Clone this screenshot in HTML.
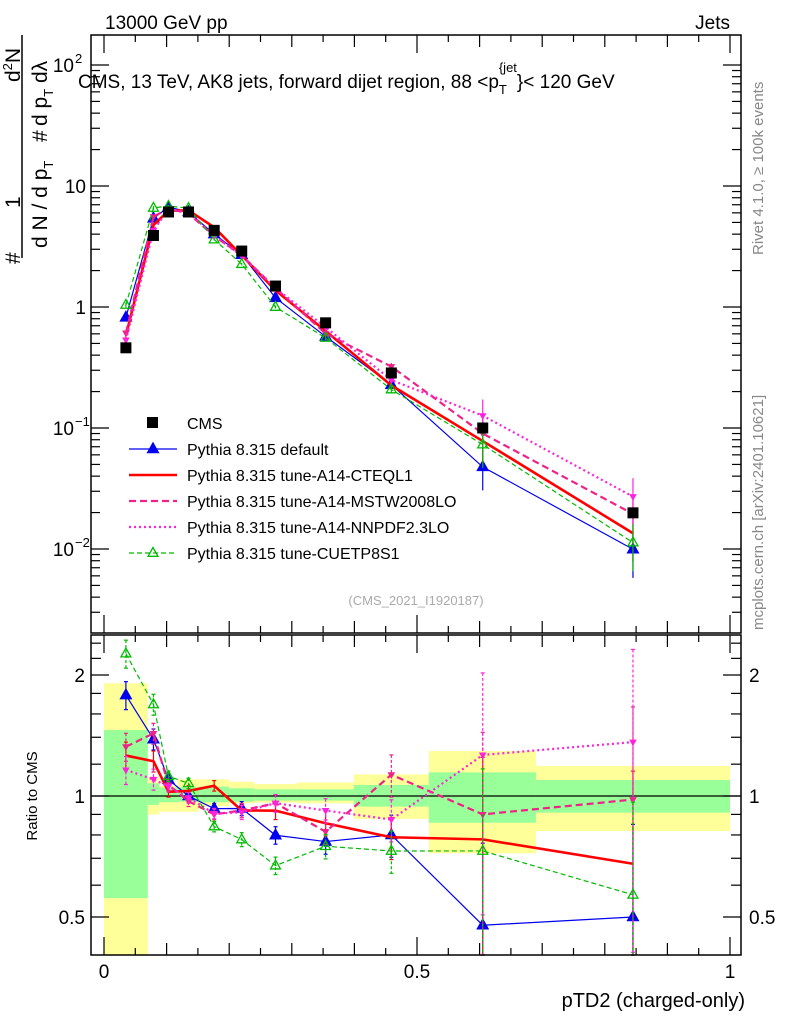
<!DOCTYPE html>
<html><head><meta charset="utf-8"><style>
html,body{margin:0;padding:0;background:#fff;}
svg{display:block;font-family:"Liberation Sans",sans-serif;}
</style></head><body>
<svg id="c" width="786" height="1024" viewBox="0 0 786 1024" xmlns="http://www.w3.org/2000/svg">
<text x="105" y="29" font-size="19">13000 GeV pp</text>
<text x="730" y="29" font-size="19" text-anchor="end">Jets</text>
<text x="78" y="88" font-size="19">CMS, 13 TeV, AK8 jets, forward dijet region, 88 &lt;p<tspan font-size="13" dy="6">T</tspan><tspan font-size="13" dx="-8" dy="-22">{jet</tspan><tspan dy="16">}&lt; 120 GeV</tspan></text>
<text transform="translate(763,255) rotate(-90)" font-size="15" fill="#888">Rivet 4.1.0, ≥ 100k events</text>
<text transform="translate(763,630) rotate(-90)" font-size="15" fill="#888">mcplots.cern.ch [arXiv:2401.10621]</text>
<g font-size="21">
<text transform="translate(20,264) rotate(-90)">#</text>
<text transform="translate(20,208) rotate(-90)">1</text>
<text transform="translate(20,82) rotate(-90)">d<tspan font-size="13" dy="-8">2</tspan><tspan dy="8">N</tspan></text>
<line x1="22" y1="35" x2="22" y2="258" stroke="#000" stroke-width="1.5"/>
<text transform="translate(47,248) rotate(-90)">d N / d p<tspan font-size="13" dy="6">T</tspan></text>
<text transform="translate(47,142) rotate(-90)">#</text>
<text transform="translate(47,126) rotate(-90)">d p<tspan font-size="13" dy="6">T</tspan><tspan dy="-6"> dλ</tspan></text>
</g>
<text transform="translate(37,796) rotate(-90)" font-size="15" text-anchor="middle">Ratio to CMS</text>
<text x="745" y="1007" font-size="20" text-anchor="end">pTD2 (charged-only)</text>
<text x="416" y="605" font-size="13" fill="#aaa" text-anchor="middle">(CMS_2021_I1920187)</text>
<g id="bands"></g><g id="grid"></g><g id="marks"></g><g id="axes"></g><g id="legend"></g>
</svg>
<script>
const binEdges=[0,0.07,0.088,0.118,0.152,0.2,0.24,0.308,0.399,0.519,0.69,1.0];
const xCenters=[0.035,0.079,0.103,0.135,0.176,0.22,0.274,0.354,0.459,0.605,0.845];
const cmsValues=[0.46,3.9,6.1,6.1,4.3,2.9,1.49,0.74,0.285,0.100,0.0199];
const defaultValues=[0.82,5.4,6.7,6.1,4.0,2.7,1.19,0.57,0.228,0.0477,0.00995];
const cteqValues=[0.58,4.76,6.25,6.28,4.56,2.67,1.37,0.633,0.225,0.078,0.0135];
const mstwValues=[0.61,5.58,6.5,5.92,3.87,2.67,1.43,0.603,0.322,0.090,0.0195];
const nnpdfValues=[0.534,4.29,6.44,6.04,3.89,2.64,1.43,0.681,0.249,0.1265,0.0271];
const cuetValues=[1.04,6.59,6.83,6.56,3.61,2.26,1.0,0.555,0.208,0.073,0.0113];
const mcRelErr=[0.08,0.06,0.03,0.03,0.03,0.04,0.05,0.07,0.12,0.6,0.7];
const yellowUp=[1.907,1.117,1.06,1.10,1.10,1.085,1.071,1.081,1.132,1.294,1.188];
const yellowLo=[0.40,0.90,0.914,0.914,0.944,0.959,0.963,0.959,0.877,0.72,0.818];
const greenUp=[1.459,1.075,1.05,1.051,1.055,1.045,1.039,1.039,1.065,1.145,1.096];
const greenLo=[0.557,0.95,0.965,0.968,0.965,0.968,0.974,0.974,0.941,0.858,0.909];
const mainTicks=[-2,-1,0,1,2];
const mainTickLabels=["10","10","1","10","10"];
const mainTickExp=["−2","−1","","","2"];
const ratioTicks=[0.5,1,2];
const ratioTickLabels=["0.5","1","2"];
const xTickLabels=["0","0.5","1"];
const xTickVals=[0,0.5,1];

const NS="http://www.w3.org/2000/svg";
const L=91,R=741,MT=35,MB=633,RT=635,RB=955;
const X=v=>104+v*626;
const YM=v=>307-121*Math.log10(v);
const YR=v=>796-121*Math.log2(v);
const clampR=y=>Math.max(RT,Math.min(RB,y));
function el(tag,attrs,parent){const e=document.createElementNS(NS,tag);for(const k in attrs)e.setAttribute(k,attrs[k]);parent.appendChild(e);return e;}
const bands=document.getElementById('bands'),marks=document.getElementById('marks'),axes=document.getElementById('axes'),legend=document.getElementById('legend');

for(let i=0;i<xCenters.length;i++){
 const x0=X(binEdges[i]),x1=X(binEdges[i+1]);
 let y1=clampR(YR(yellowUp[i])),y2=clampR(YR(yellowLo[i]));
 const yb=el('rect',{x:x0,y:y1,width:x1-x0,height:y2-y1,fill:'#ffff99'},bands);
 
 
 y1=clampR(YR(greenUp[i]));y2=clampR(YR(greenLo[i]));
 const gb=el('rect',{x:x0,y:y1,width:x1-x0,height:y2-y1,fill:'#99ff99'},bands);
 
 
}
el('line',{x1:L,x2:R,y1:YR(1),y2:YR(1),stroke:'#000','stroke-width':1.3},bands);

function tri(x,y,s,up,fill,stroke,parent){
 const pts=up?`${x},${y-s} ${x-s*0.9},${y+s*0.6} ${x+s*0.9},${y+s*0.6}`:`${x},${y+s} ${x-s*0.9},${y-s*0.6} ${x+s*0.9},${y-s*0.6}`;
 return el('polygon',{points:pts,fill:fill,stroke:stroke,'stroke-width':1.3},parent);
}
const series=[
 {name:'default',vals:defaultValues,color:'#0000ee',w:1.2,dash:'',marker:'tri',label:'Pythia 8.315 default'},
 {name:'cteql1',vals:cteqValues,color:'#ff0000',w:2.6,dash:'',marker:'none',label:'Pythia 8.315 tune-A14-CTEQL1'},
 {name:'mstw',vals:mstwValues,color:'#ee2288',w:2.2,dash:'7,4',marker:'itri',label:'Pythia 8.315 tune-A14-MSTW2008LO'},
 {name:'nnpdf',vals:nnpdfValues,color:'#ff22dd',w:2.2,dash:'2,3',marker:'itri',label:'Pythia 8.315 tune-A14-NNPDF2.3LO'},
 {name:'cuet',vals:cuetValues,color:'#00bb00',w:1.2,dash:'5,3',marker:'otri',label:'Pythia 8.315 tune-CUETP8S1'}
];
for(const s of series){
 const g=el('g',{},marks);
 
 
 const pm=s.vals.map((v,i)=>X(xCenters[i])+','+YM(v)).join(' ');
 el('polyline',{points:pm,fill:'none',stroke:s.color,'stroke-width':s.w,'stroke-dasharray':s.dash},g);
 const pr=s.vals.map((v,i)=>X(xCenters[i])+','+YR(v/cmsValues[i])).join(' ');
 el('polyline',{points:pr,fill:'none',stroke:s.color,'stroke-width':s.w,'stroke-dasharray':s.dash},g);
 s.vals.forEach((v,i)=>{
  const x=X(xCenters[i]),r=v/cmsValues[i],e=mcRelErr[i];
  const ya=clampR(YR(r*(1+e))),yb2=clampR(YR(Math.max(r*(1-e),0.01)));
  el('line',{x1:x,x2:x,y1:ya,y2:yb2,stroke:s.color,'stroke-width':1.2,'stroke-dasharray':s.dash?'3,2':''},g);
  el('line',{x1:x-2,x2:x+2,y1:ya,y2:ya,stroke:s.color,'stroke-width':1.2},g);
  el('line',{x1:x-2,x2:x+2,y1:yb2,y2:yb2,stroke:s.color,'stroke-width':1.2},g);
  const ma=YM(v*(1+e*0.6)),mb=YM(v*(1-e*0.6));
  el('line',{x1:x,x2:x,y1:ma,y2:mb,stroke:s.color,'stroke-width':1.2},g);
  for(const y of [YM(v),YR(r)]){
   if(s.marker==='tri'){const m=tri(x,y,6,true,s.color,s.color,g);}
   else if(s.marker==='otri'){const m=tri(x,y,5.5,true,'none',s.color,g);}
   else if(s.marker==='itri'){const m=tri(x,y,3,false,s.color,s.color,g);}
  }
 });
}
const cg=el('g',{},marks);


cmsValues.forEach((v,i)=>{
 const x=X(xCenters[i]),y=YM(v);
 const m=el('rect',{x:x-5.5,y:y-5.5,width:11,height:11,fill:'#000'},cg);
 
 
});

for(const [t,b] of [[MT,MB],[RT,RB]]){
 el('rect',{x:L,y:t,width:R-L,height:b-t,fill:'none',stroke:'#000','stroke-width':1.5},axes);
 for(let k=0;k<=20;k++){const v=k*0.05,x=X(v);const len=(k%10===0)?18:(k%2===0?12:7);
  el('line',{x1:x,x2:x,y1:b,y2:b-len,stroke:'#000','stroke-width':1.2},axes);
  el('line',{x1:x,x2:x,y1:t,y2:t+len,stroke:'#000','stroke-width':1.2},axes);}
}
for(let d=-3;d<=2;d++){for(let m=1;m<10;m++){const y=YM(m*Math.pow(10,d));if(y<MT||y>MB)continue;const len=m===1?18:9;
 el('line',{x1:L,x2:L+len,y1:y,y2:y,stroke:'#000','stroke-width':1.2},axes);
 el('line',{x1:R,x2:R-len,y1:y,y2:y,stroke:'#000','stroke-width':1.2},axes);}}
mainTicks.forEach((p,i)=>{
 const t=el('text',{x:mainTickExp[i]?74:86,y:YM(Math.pow(10,p))+7,'font-size':19,'text-anchor':'end'},axes);
 t.textContent=mainTickLabels[i];
 
 
 if(mainTickExp[i]){const e=el('text',{x:75,y:YM(Math.pow(10,p))-2,'font-size':13},axes);e.textContent=mainTickExp[i];}
});
const rminor=[0.5,0.6,0.7,0.8,0.9,1,1.2,1.4,1.6,1.8,2,2.2,2.4];
rminor.forEach(v=>{const y=YR(v);const len=(v===0.5||v===1||v===2)?18:10;
 el('line',{x1:L,x2:L+len,y1:y,y2:y,stroke:'#000','stroke-width':1.2},axes);
 el('line',{x1:R,x2:R-len,y1:y,y2:y,stroke:'#000','stroke-width':1.2},axes);});
ratioTicks.forEach((v,i)=>{
 const t=el('text',{x:85,y:YR(v)+7,'font-size':19,'text-anchor':'end'},axes);t.textContent=ratioTickLabels[i];
 
 
 const t2=el('text',{x:749,y:YR(v)+7,'font-size':19},axes);t2.textContent=ratioTickLabels[i];
 
 
});
xTickVals.forEach((v,i)=>{
 const t=el('text',{x:X(v),y:978,'font-size':19,'text-anchor':'middle'},axes);t.textContent=xTickLabels[i];
 
 
});

const lrows=[{label:'CMS',type:'cms'}].concat(series.map(s=>({label:s.label,type:s.name,s:s})));
lrows.forEach((r,i)=>{
 const y=423+i*26;
 const g=el('g',{},legend);
 
 
 if(r.type==='cms'){el('rect',{x:147,y:y-6,width:11,height:11,fill:'#000'},g);}
 else{const s=r.s;el('line',{x1:129,x2:177,y1:y,y2:y,stroke:s.color,'stroke-width':s.w,'stroke-dasharray':s.dash},g);
  if(s.marker==='tri')tri(153,y,6,true,s.color,s.color,g);
  if(s.marker==='otri')tri(153,y,5.5,true,'none',s.color,g);}
 const t=el('text',{x:187,y:y+6,'font-size':16},g);t.textContent=r.label;
});
</script>
</body></html>
